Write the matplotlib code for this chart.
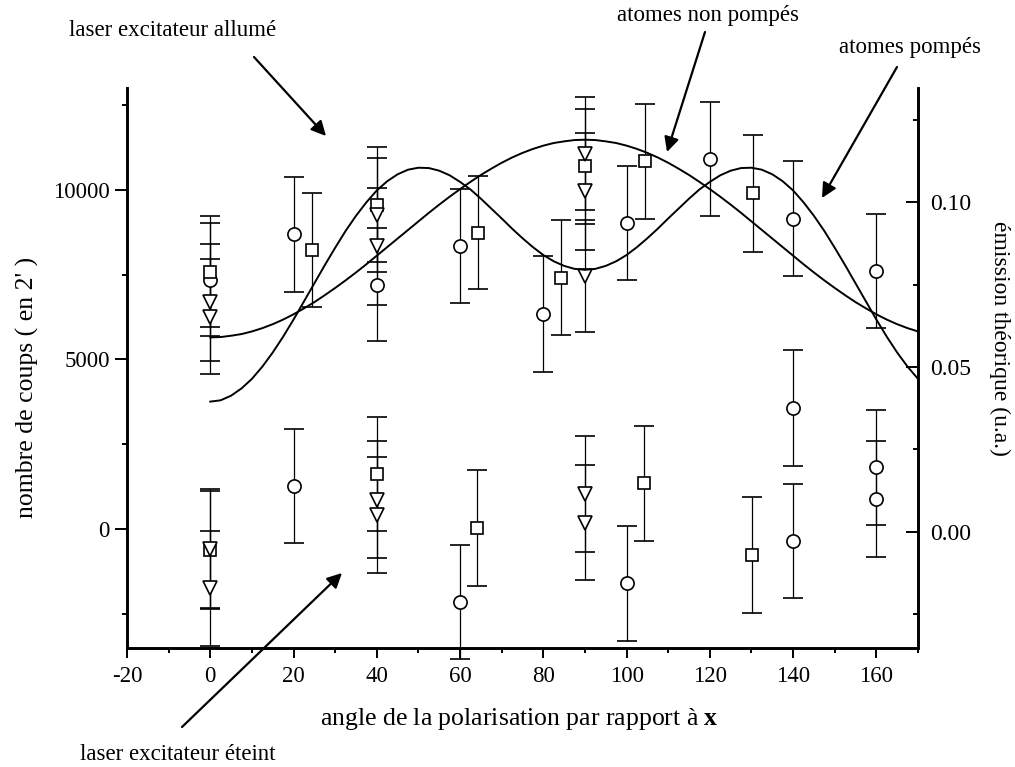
import numpy as np
import matplotlib
matplotlib.use("Agg")
import matplotlib.pyplot as plt
from matplotlib.ticker import MultipleLocator, FormatStrFormatter

plt.rcParams['font.family'] = ['Liberation Serif', 'DejaVu Serif']
plt.rcParams['axes.unicode_minus'] = False
plt.rcParams['mathtext.fontset'] = 'custom'
plt.rcParams['mathtext.rm'] = 'Liberation Serif'
plt.rcParams['mathtext.bf'] = 'Liberation Serif:bold'

# --- données ---
# laser excitateur allumé
on_circ_x = [0, 20, 40, 60, 80, 100, 120, 140, 160]
on_circ_y = [7350, 8690, 7200, 8330, 6350, 9020, 10910, 9150, 7610]
on_circ_e = [1670, 1700, 1670, 1680, 1710, 1690, 1670, 1690, 1690]

on_sq_x = [0, 24.4, 40, 64.2, 84.3, 90, 104.4, 130.3]
on_sq_y = [7590, 8230, 9560, 8740, 7410, 10690, 10840, 9900]
on_sq_e = [1650, 1680, 1700, 1680, 1700, 1690, 1690, 1720]

on_tri_x = [0, 0, 40, 40, 90, 90, 90]
on_tri_y = [6680, 6260, 9260, 8330, 11060, 9950, 7460]
on_tri_e = [1720, 1700, 1680, 1720, 1670, 1720, 1640]

# laser excitateur éteint
off_circ_x = [20, 60, 100, 140, 140, 160, 160]
off_circ_y = [1270, -2140, -1600, 3560, -350, 1820, 880]
off_circ_e = [1690, 1680, 1700, 1710, 1690, 1690, 1700]

off_sq_x = [0, 40, 64.1, 104.1, 130.1]
off_sq_y = [-620, 1620, 20, 1350, -770]
off_sq_e = [1750, 1690, 1710, 1690, 1700]

off_tri_x = [0, 0, 40, 40, 90, 90]
off_tri_y = [-580, -1750, 860, 410, 1030, 190]
off_tri_e = [1760, 1700, 1720, 1710, 1710, 1700]

# émission théorique (axe de droite), relevée tous les 2.5 degrés de 0 à 170
theo_x = [i * 2.5 for i in range(69)]
non_pompes = [0.0590, 0.0591, 0.0595, 0.0600, 0.0608, 0.0618, 0.0630, 0.0644,
              0.0660, 0.0678, 0.0697, 0.0718, 0.0740, 0.0763, 0.0787, 0.0812,
              0.0838, 0.0864, 0.0890, 0.0916, 0.0942, 0.0968, 0.0993, 0.1017,
              0.1040, 0.1062, 0.1083, 0.1102, 0.1120, 0.1136, 0.1150, 0.1162,
              0.1172, 0.1180, 0.1185, 0.1189, 0.1190, 0.1189, 0.1185, 0.1180,
              0.1172, 0.1162, 0.1150, 0.1136, 0.1120, 0.1102, 0.1083, 0.1062,
              0.1040, 0.1017, 0.0993, 0.0968, 0.0942, 0.0916, 0.0890, 0.0864,
              0.0838, 0.0812, 0.0787, 0.0763, 0.0740, 0.0718, 0.0697, 0.0678,
              0.0660, 0.0644, 0.0630, 0.0618, 0.0608]
pompes = [0.0395, 0.0399, 0.0413, 0.0435, 0.0464, 0.0501, 0.0544, 0.0592,
          0.0644, 0.0699, 0.0754, 0.0809, 0.0862, 0.0913, 0.0959, 0.1000,
          0.1036, 0.1064, 0.1085, 0.1099, 0.1105, 0.1104, 0.1096, 0.1082,
          0.1062, 0.1039, 0.1011, 0.0981, 0.0951, 0.0920, 0.0891, 0.0864,
          0.0840, 0.0821, 0.0807, 0.0798, 0.0795, 0.0798, 0.0807, 0.0821,
          0.0840, 0.0864, 0.0891, 0.0920, 0.0951, 0.0981, 0.1011, 0.1039,
          0.1062, 0.1082, 0.1096, 0.1104, 0.1105, 0.1099, 0.1085, 0.1064,
          0.1036, 0.1000, 0.0959, 0.0913, 0.0862, 0.0809, 0.0754, 0.0699,
          0.0644, 0.0592, 0.0544, 0.0501, 0.0464]

W, H = 1015, 767
fig = plt.figure(figsize=(W / 100, H / 100), dpi=100)
ax = fig.add_axes([127 / W, 1 - 647.7 / H, (918 - 127) / W, (647.7 - 88) / H])
ax2 = ax.twinx()


def px(x, y):
    # pixels (origine en haut à gauche) -> fraction de figure
    return (x / W, 1 - y / H)


def draw_series(xs, ys, es, marker, ms):
    c = ax.errorbar(xs, ys, yerr=es, fmt=marker, ms=ms, mfc='white', mec='black',
                    mew=1.2, color='black', ecolor='black', elinewidth=0.9,
                    capsize=7, capthick=0.9, zorder=3)
    for a in c.get_children():
        a.set_clip_on(False)


draw_series(on_circ_x, on_circ_y, on_circ_e, 'o', 9.5)
draw_series(on_sq_x, on_sq_y, on_sq_e, 's', 8.5)
draw_series(on_tri_x, on_tri_y, on_tri_e, 'v', 10)
draw_series(off_circ_x, off_circ_y, off_circ_e, 'o', 9.5)
draw_series(off_sq_x, off_sq_y, off_sq_e, 's', 8.5)
draw_series(off_tri_x, off_tri_y, off_tri_e, 'v', 10)

ax2.plot(theo_x, non_pompes, color='black', lw=1.4)
ax2.plot(theo_x, pompes, color='black', lw=1.4)

ax.set_xlim(-20, 170)
ax.set_ylim(-3500, 13000)
ax2.set_ylim(-0.0352, 0.1347)

ax.xaxis.set_major_locator(MultipleLocator(20))
ax.xaxis.set_minor_locator(MultipleLocator(10))
ax.yaxis.set_major_locator(MultipleLocator(5000))
ax.yaxis.set_minor_locator(MultipleLocator(2500))
ax2.yaxis.set_major_locator(MultipleLocator(0.05))
ax2.yaxis.set_minor_locator(MultipleLocator(0.025))
ax2.yaxis.set_major_formatter(FormatStrFormatter('%.2f'))

for a in (ax, ax2):
    a.spines['top'].set_visible(False)
    for s in ('left', 'right', 'bottom'):
        a.spines[s].set_linewidth(1.9)
ax.patch.set_visible(False)

ax.tick_params(axis='x', which='major', direction='out', length=7, width=1.4,
               labelsize=16.5, pad=6)
ax.tick_params(axis='x', which='minor', direction='out', length=3.5, width=1.4)
ax.tick_params(axis='y', which='major', direction='out', length=8.5, width=1.4,
               labelsize=16.5, pad=4)
ax.tick_params(axis='y', which='minor', direction='out', length=3.5, width=1.4)
ax2.tick_params(axis='y', which='major', direction='in', length=8.5, width=1.4,
                labelsize=17, pad=9)
ax2.tick_params(axis='y', which='minor', direction='in', length=3.5, width=1.4)

# titres des axes
fig.text(*px(519, 719), "angle de la polarisation par rapport à $\\mathbf{x}$",
         ha='center', va='center', fontsize=18.5)
fig.text(*px(27, 387), "nombre de coups ( en 2' )", rotation=90,
         ha='center', va='center', fontsize=18.5)
fig.text(*px(1000, 338), "émission théorique (u.a.)", rotation=270,
         ha='center', va='center', fontsize=17)

# annotations avec flèches
arrow = dict(arrowstyle='-|>', color='black', lw=1.6, mutation_scale=22,
             shrinkA=0, shrinkB=0)
fig.text(*px(173, 31), "laser excitateur allumé", ha='center', va='center', fontsize=16.5)
ax.annotate("", xy=px(326, 136), xycoords='figure fraction',
            xytext=px(254, 57), textcoords='figure fraction', arrowprops=arrow)

fig.text(*px(708, 16), "atomes non pompés", ha='center', va='center', fontsize=16.5)
ax.annotate("", xy=px(667, 152), xycoords='figure fraction',
            xytext=px(705, 32), textcoords='figure fraction', arrowprops=arrow)

fig.text(*px(910, 48), "atomes pompés", ha='center', va='center', fontsize=16.5)
ax.annotate("", xy=px(822, 198), xycoords='figure fraction',
            xytext=px(897, 67), textcoords='figure fraction', arrowprops=arrow)

fig.text(*px(178, 755), "laser excitateur éteint", ha='center', va='center', fontsize=16.5)
ax.annotate("", xy=px(342, 573), xycoords='figure fraction',
            xytext=px(182, 727), textcoords='figure fraction', arrowprops=arrow)

fig.savefig("out.png", dpi=100)
